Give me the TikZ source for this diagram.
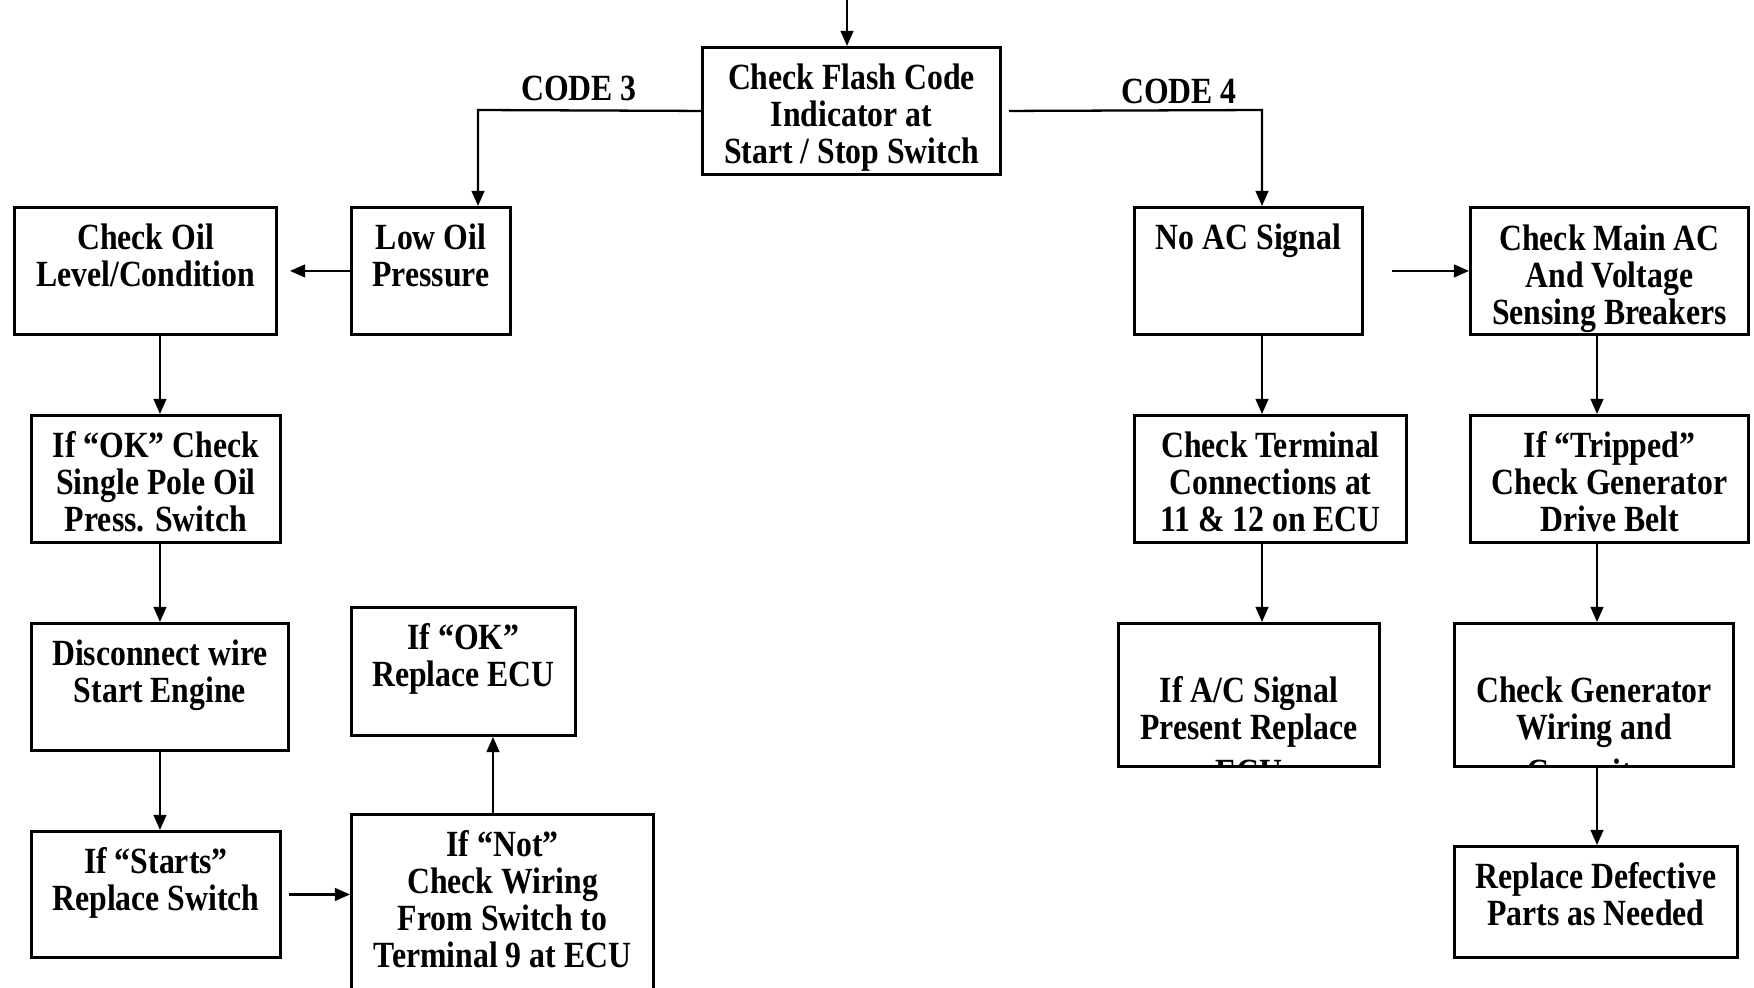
\documentclass[tikz,border=0pt]{standalone}
\usepackage{fontspec}
\setmainfont{Liberation Serif}[FakeStretch=0.86]
\usetikzlibrary{positioning,arrows.meta}

\begin{document}
\begin{tikzpicture}[
		x=0.01cm, y=-0.01cm,
		box/.style = {draw, line width=0.8pt, anchor=north west, inner sep=0pt},
		txt/.style = {align=center, inner sep=0pt, font=\fontsize{10.5}{10.5}\selectfont\bfseries},
		flow/.style = {line width=0.65pt, -{Triangle[length=4.3pt,width=3.6pt]}},
	]
	\clip (0,0) rectangle (1754,987);
	% boxes
	\node[box, minimum width=29.8mm, minimum height=12.7mm] (flash) at (701,46) {};
	\node[box, minimum width=15.9mm, minimum height=12.7mm] (lowoil) at (350,206) {};
	\node[box, minimum width=26.2mm, minimum height=12.7mm] (oillevel) at (13,206) {};
	\node[box, minimum width=24.9mm, minimum height=12.7mm] (okswitch) at (30,414) {};
	\node[box, minimum width=25.7mm, minimum height=12.7mm] (disconnect) at (30,622) {};
	\node[box, minimum width=24.9mm, minimum height=12.6mm] (starts) at (30,830) {};
	\node[box, minimum width=30.2mm, minimum height=20mm] (notwiring) at (350,813) {};
	\node[box, minimum width=22.4mm, minimum height=12.8mm] (replaceecu) at (350,606) {};
	\node[box, minimum width=22.8mm, minimum height=12.7mm] (noac) at (1133,206) {};
	\node[box, minimum width=27.8mm, minimum height=12.7mm] (mainac) at (1469,206) {};
	\node[box, minimum width=27.2mm, minimum height=12.7mm] (terminal) at (1133,414) {};
	\node[box, minimum width=27.8mm, minimum height=12.7mm] (tripped) at (1469,414) {};
	\node[box, minimum width=26.1mm, minimum height=14.3mm] (acsignal) at (1117,622) {};
	\node[box, minimum width=27.9mm, minimum height=14.3mm] (generator) at (1453,622) {};
	\node[box, minimum width=28.3mm, minimum height=11.1mm] (defective) at (1453,845) {};

	% texts
	\node[txt, below=1.7mm of flash.north] (flash-t) {Check Flash Code\\Indicator at\\Start / Stop Switch};
	\node[txt, below=1.7mm of lowoil.north] (lowoil-t) {Low Oil\\Pressure};
	\node[txt, below=1.7mm of oillevel.north] (oillevel-t) {Check Oil\\Level/Condition};
	\node[txt, below=1.7mm of okswitch.north] (okswitch-t) {If “OK” Check\\Single Pole Oil\\Press. Switch};
	\node[txt, below=1.7mm of disconnect.north] (disconnect-t) {Disconnect wire\\Start Engine};
	\node[txt, below=1.7mm of starts.north] (starts-t) {If “Starts”\\Replace Switch};
	\node[txt, below=1.7mm of notwiring.north] (notwiring-t) {If “Not”\\Check Wiring\\From Switch to\\Terminal 9 at ECU};
	\node[txt, below=1.7mm of replaceecu.north] (replaceecu-t) {If “OK”\\Replace ECU};
	\node[txt, below=1.7mm of noac.north] (noac-t) {No AC Signal};
	\node[txt, below=1.7mm of terminal.north] (terminal-t) {Check Terminal\\Connections at\\11 \& 12 on ECU};
	\node[txt, below=1.7mm of tripped.north] (tripped-t) {If “Tripped”\\Check Generator\\Drive Belt};
	\node[txt, below=1.7mm of defective.north] (defective-t) {Replace Defective\\Parts as Needed};
	\begin{scope}
		\clip (mainac.south west) rectangle (mainac.north east);
		\node[txt, below=1.8mm of mainac.north] (mainac-t) {Check Main AC\\And Voltage\\Sensing Breakers};
	\end{scope}
	\begin{scope}
		\clip (acsignal.south west) rectangle (acsignal.north east);
		\node[txt, below=5.4mm of acsignal.north] (acsignal-t) {If A/C Signal\\Present Replace\\[0.8mm]ECU};
	\end{scope}
	\begin{scope}
		\clip (generator.south west) rectangle (generator.north east);
		\node[txt, below=5.4mm of generator.north] (generator-t) {Check Generator\\Wiring and\\[0.8mm]Capacitor};
	\end{scope}

	\node[txt] (code3) at (579,88) {CODE 3};
	\node[txt] (code4) at (1179,91) {CODE 4};

	% connectors
	\coordinate (entry) at (847,0);
	\coordinate (c3) at (478,110);
	\coordinate (c4) at (1262,110);
	\coordinate (cr) at (1597,0);
	\draw[flow] (entry) -- (entry |- flash.north);
	\draw[flow] (flash.west) -- (c3) -- (c3 |- lowoil.north);
	\draw[flow] ([xshift=0.7mm]flash.east) -- (c4) -- (c4 |- noac.north);
	\draw[flow, shorten >=1.2mm] (lowoil.west) -- (oillevel.east);
	\draw[flow] (oillevel.south -| disconnect.north) -- (okswitch.north -| disconnect.north);
	\draw[flow] (okswitch.south -| disconnect.north) -- (disconnect.north);
	\draw[flow] (disconnect.south) -- (disconnect.south |- starts.north);
	\draw[flow, shorten <=0.7mm] (starts.east) -- (starts.east -| notwiring.west);
	\draw[flow] (notwiring.north -| 493,0) -- (replaceecu.south -| 493,0);
	\draw[flow, shorten <=2.8mm] (noac.east) -- (mainac.west);
	\draw[flow] (c4 |- noac.south) -- (c4 |- terminal.north);
	\draw[flow] (c4 |- terminal.south) -- (c4 |- acsignal.north);
	\draw[flow] (cr |- mainac.south) -- (cr |- tripped.north);
	\draw[flow] (cr |- tripped.south) -- (cr |- generator.north);
	\draw[flow] (cr |- generator.south) -- (cr |- defective.north);
\end{tikzpicture}
\end{document}
